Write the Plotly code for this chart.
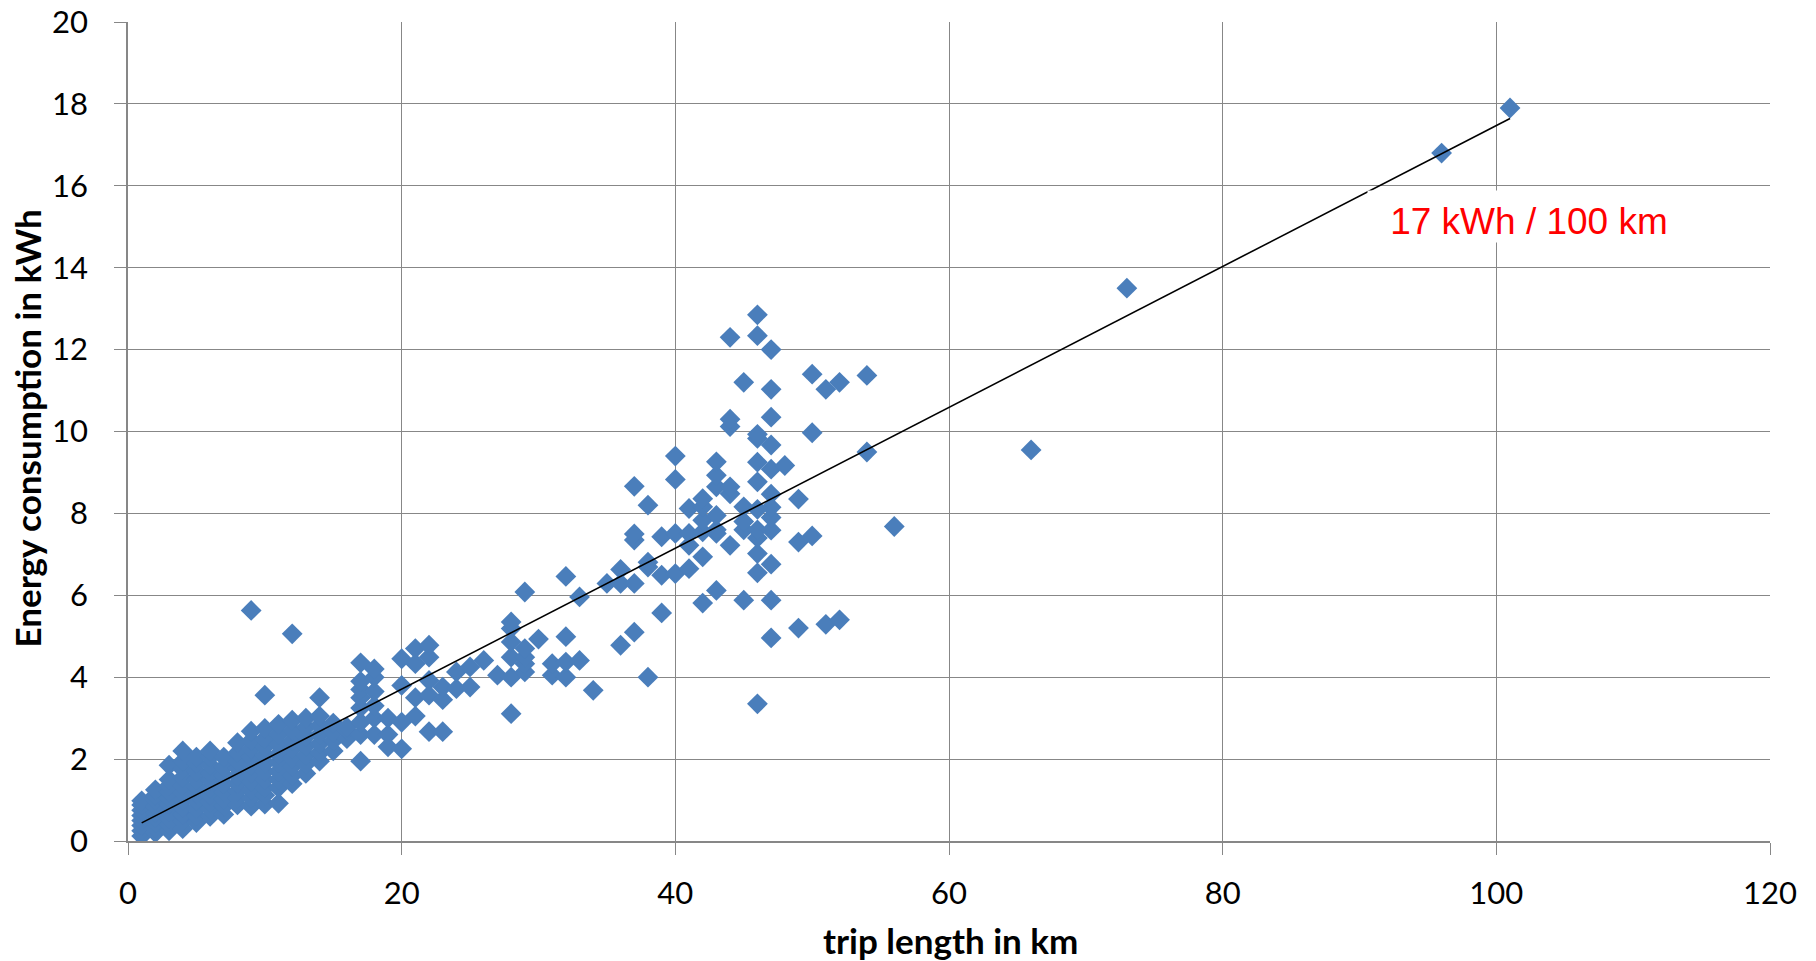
import plotly.graph_objects as go

# trip length (km) and energy consumption (kWh)
trip_km = [
    1, 1, 1, 1, 1, 1, 1, 1,
    2, 2, 2, 2, 2, 2, 2, 2, 2,
    3, 3, 3, 3, 3, 3, 3, 3, 3, 3,
    4, 4, 4, 4, 4, 4, 4, 4, 4, 4, 4,
    5, 5, 5, 5, 5, 5, 5, 5, 5, 5,
    6, 6, 6, 6, 6, 6, 6, 6, 6, 6,
    7, 7, 7, 7, 7, 7, 7, 7,
    8, 8, 8, 8, 8, 8, 8, 8, 8,
    9, 9, 9, 9, 9, 9, 9, 9, 9, 9, 9,
    10, 10, 10, 10, 10, 10, 10, 10, 10, 10, 10,
    11, 11, 11, 11, 11, 11, 11, 11, 11,
    12, 12, 12, 12, 12, 12, 12, 12, 12,
    13, 13, 13, 13, 13, 13, 13,
    14, 14, 14, 14, 14, 14, 14,
    15, 15, 15, 15,
    16, 16, 16,
    17, 17, 17, 17, 17, 17, 17, 17,
    18, 18, 18, 18, 18, 18,
    19, 19, 19,
    20, 20, 20, 20,
    21, 21, 21, 21,
    22, 22, 22, 22, 22,
    23, 23, 23,
    24, 24,
    25, 25,
    26,
    27,
    28, 28, 28, 28, 28, 28,
    29, 29, 29, 29, 29,
    30,
    31, 31,
    32, 32, 32, 32,
    33, 33,
    34,
    35,
    36, 36, 36,
    37, 37, 37, 37, 37,
    38, 38, 38, 38,
    39, 39, 39,
    40, 40, 40, 40,
    41, 41, 41, 41,
    42, 42, 42, 42, 42, 42,
    43, 43, 43, 43, 43, 43, 43,
    44, 44, 44, 44, 44, 44,
    45, 45, 45, 45, 45,
    46, 46, 46, 46, 46, 46, 46, 46, 46, 46, 46, 46,
    47, 47, 47, 47, 47, 47, 47, 47, 47, 47, 47, 47,
    48,
    49, 49, 49,
    50, 50, 50,
    51, 51,
    52, 52,
    54, 54,
    56,
    66,
    73,
    96,
    101,
]

energy_kwh = [
    0.12, 0.25, 0.38, 0.5, 0.62, 0.75, 0.88, 0.98,
    0.2, 0.32, 0.45, 0.58, 0.7, 0.85, 1.0, 1.12, 1.25,
    0.25, 0.4, 0.55, 0.72, 0.9, 1.05, 1.2, 1.35, 1.5, 1.85,
    0.3, 0.48, 0.65, 0.82, 1.0, 1.18, 1.35, 1.55, 1.75, 1.95, 2.2,
    0.45, 0.62, 0.8, 0.98, 1.15, 1.32, 1.5, 1.7, 1.9, 2.05,
    0.6, 0.78, 0.95, 1.12, 1.3, 1.48, 1.65, 1.85, 2.05, 2.2,
    0.65, 0.85, 1.02, 1.2, 1.4, 1.6, 1.8, 2.05,
    0.88, 1.05, 1.22, 1.4, 1.58, 1.78, 1.95, 2.15, 2.4,
    0.85, 1.05, 1.25, 1.45, 1.65, 1.85, 2.05, 2.25, 2.45, 2.68, 5.63,
    0.9, 1.12, 1.3, 1.5, 1.7, 1.9, 2.1, 2.3, 2.5, 2.75, 3.56,
    0.92, 1.3, 1.5, 1.7, 1.92, 2.12, 2.35, 2.6, 2.85,
    1.4, 1.6, 1.82, 2.02, 2.25, 2.45, 2.7, 2.95, 5.06,
    1.65, 1.88, 2.1, 2.32, 2.55, 2.78, 3.0,
    1.95, 2.15, 2.38, 2.6, 2.82, 3.05, 3.5,
    2.2, 2.45, 2.65, 2.88,
    2.5, 2.7, 2.78,
    1.95, 2.6, 2.9, 3.25, 3.5, 3.7, 3.9, 4.35,
    2.6, 3.0, 3.3, 3.65, 4.0, 4.2,
    2.3, 2.6, 3.0,
    2.25, 2.9, 3.8, 4.45,
    3.05, 3.5, 4.33, 4.7,
    2.67, 3.56, 3.92, 4.49, 4.78,
    2.67, 3.45, 3.76,
    3.72, 4.13,
    3.76, 4.25,
    4.41,
    4.05,
    3.11, 4.0, 4.49, 4.86, 5.19, 5.35,
    4.13, 4.33, 4.49, 4.7, 6.08,
    4.93,
    4.05, 4.33,
    4.0, 4.37, 4.99, 6.46,
    4.41, 5.96,
    3.68,
    6.29,
    4.78, 6.29, 6.63,
    5.1, 6.29, 7.35, 7.5, 8.66,
    4.0, 6.69, 6.81, 8.2,
    5.57, 6.49, 7.43,
    6.53, 7.51, 8.83, 9.4,
    6.65, 7.22, 7.51, 8.12,
    5.81, 6.94, 7.55, 7.83, 8.16, 8.36,
    6.12, 7.51, 7.6, 7.95, 8.65, 8.93, 9.26,
    7.22, 8.48, 8.65, 10.12, 10.3, 12.3,
    5.88, 7.6, 7.8, 8.16, 11.2,
    3.35, 6.55, 7.02, 7.4, 7.6, 8.1, 8.77, 9.25, 9.83, 9.93, 12.34, 12.85,
    4.96, 5.88, 6.76, 7.59, 7.9, 8.15, 8.47, 9.08, 9.67, 10.35, 11.03, 12.0,
    9.17,
    5.2, 7.3, 8.35,
    7.45, 9.97, 11.4,
    5.29, 11.03,
    5.4, 11.2,
    9.5, 11.37,
    7.68,
    9.55,
    13.5,
    16.8,
    17.9,
]

# linear trend
trend_slope = 0.172
trend_intercept = 0.27
trend_label = "17 kWh / 100 km"

x_title = "trip length in km"
y_title = "Energy consumption in kWh"

trend_x = [min(trip_km), max(trip_km)]
trend_y = [trend_intercept + trend_slope * v for v in trend_x]

fig = go.Figure()
fig.add_trace(go.Scatter(
    x=trip_km, y=energy_kwh, mode="markers",
    marker=dict(symbol="diamond", size=16, color="#4A7EBB", line=dict(width=0)),
    showlegend=False, hoverinfo="x+y",
))
fig.add_trace(go.Scatter(
    x=trend_x, y=trend_y, mode="lines",
    line=dict(color="black", width=1.6),
    showlegend=False, hoverinfo="skip",
))

grid = "#878787"
axis_common = dict(
    showgrid=True, gridcolor=grid, gridwidth=1.4,
    showline=True, linecolor=grid, linewidth=1.6,
    ticks="outside", ticklen=12, tickcolor=grid, tickwidth=1.4,
    tickfont=dict(family="Lato", size=31, color="black"),
    zeroline=False, mirror=False,
)

fig.update_layout(
    width=1816, height=961,
    margin=dict(l=128, r=46, t=22, b=120, autoexpand=False),
    paper_bgcolor="white", plot_bgcolor="white",
    xaxis=dict(range=[0, 120], tick0=0, dtick=20, ticklabelstandoff=12, **axis_common),
    yaxis=dict(range=[0, 20], tick0=0, dtick=2, ticklabelstandoff=20, **axis_common),
    annotations=[
        dict(text=trend_label, x=102.41, y=15.25, xref="x", yref="y",
             showarrow=False, width=322, height=51, valign="bottom",
             bgcolor="white", borderpad=0,
             font=dict(family="Liberation Sans", size=37, color="#FF0000")),
        dict(text="<b>" + y_title + "</b>", x=-0.0615, y=0.5037, xref="paper", yref="paper",
             showarrow=False, textangle=-90, xanchor="center", yanchor="middle",
             font=dict(family="Lato", size=35, color="black")),
        dict(text="<b>" + x_title + "</b>", x=0.501, y=-0.121, xref="paper", yref="paper",
             showarrow=False, xanchor="center", yanchor="middle",
             font=dict(family="Lato", size=35, color="black")),
    ],
)

fig.write_html("out.html")
